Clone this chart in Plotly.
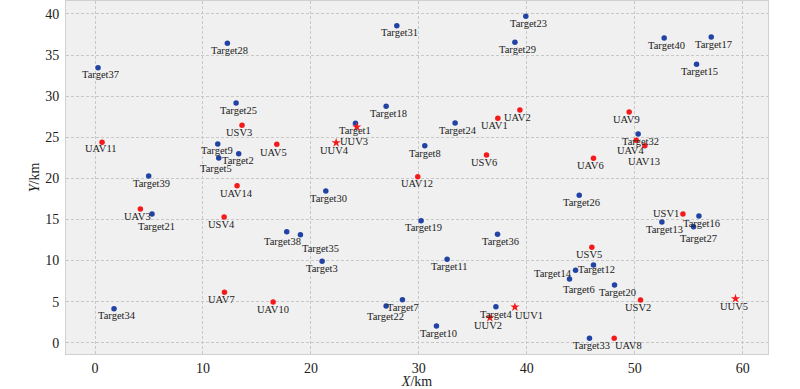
import plotly.graph_objects as go

# ---- data ----
target_names = [f"Target{i}" for i in range(1, 41)]
target_x = [24.13, 13.31, 21.04, 37.14, 11.46, 43.96, 28.48, 30.55, 11.37, 31.63,
            32.62, 46.18, 52.52, 44.52, 55.73, 55.95, 57.09, 26.97, 30.21, 48.13,
            5.28, 26.97, 39.91, 33.36, 13.07, 44.86, 55.45, 12.26, 38.90, 21.38,
            27.96, 50.32, 45.81, 1.76, 19.03, 37.29, 0.28, 17.76, 4.97, 52.73]
target_y = [26.70, 23.00, 9.90, 4.38, 22.48, 7.75, 5.23, 23.98, 24.18, 2.03,
            10.15, 9.46, 14.69, 8.81, 33.88, 15.42, 37.20, 28.77, 14.85, 7.02,
            15.66, 4.47, 39.72, 26.74, 29.17, 17.94, 14.12, 36.44, 36.56, 18.46,
            38.58, 25.40, 0.53, 4.14, 13.14, 13.19, 33.47, 13.51, 20.29, 37.08]

uav_names = [f"UAV{i}" for i in range(1, 15)]
uav_x = [37.32, 39.36, 4.20, 50.14, 16.84, 46.18, 11.99, 48.10, 49.49, 16.50,
         0.65, 29.90, 50.94, 13.16]
uav_y = [27.31, 28.32, 16.27, 24.63, 24.14, 22.44, 6.13, 0.53, 28.08, 4.95,
         24.39, 20.20, 23.98, 19.10]

usv_names = [f"USV{i}" for i in range(1, 7)]
usv_x = [54.47, 50.54, 13.62, 11.96, 46.03, 36.27]
usv_y = [15.66, 5.20, 26.46, 15.30, 11.61, 22.84]

uuv_names = [f"UUV{i}" for i in range(1, 6)]
uuv_x = [38.90, 36.58, 24.25, 22.34, 59.34]
uuv_y = [4.34, 3.04, 26.25, 24.34, 5.36]

# ---- label placement (pixel offsets: right, down) ----
default_off = {"Target": (2.5, 7.2), "UAV": (-2.5, 7.2), "USV": (-2.7, 7.2), "UUV": (-2.0, 7.4)}
label_off = {
    "Target5": (-2.7, 11), "Target21": (4.7, 12.7), "Target38": (-4, 9.7),
    "Target35": (19.7, 14), "Target22": (-0.7, 11), "Target27": (5, 12.3),
    "Target12": (3.3, 4.3), "Target14": (-23, 3), "Target6": (9, 10.3),
    "Target2": (-0.3, 7.3), "Target9": (-0.3, 6.7), "Target1": (-0.7, 7),
    "Target8": (0, 7.7), "Target3": (0, 7.3), "Target7": (0.7, 7.3), "Target4": (-0.3, 7.3),
    "UUV3": (-2.3, 15), "UUV1": (13.7, 8), "UAV4": (-6, 10.7), "UAV13": (-1, 16.3),
    "UAV8": (14, 7.3), "USV1": (-17, -0.3), "UAV10": (0, 7), "UAV11": (-0.7, 6.7),
    "UAV12": (-0.3, 7), "UAV14": (-0.3, 7.7), "UAV5": (-3, 7.7), "UAV1": (-3.3, 7.7),
}

BLUE = "#2143a3"
RED = "#f51a1a"
FONT = "Liberation Serif, Times New Roman, serif"

fig = go.Figure()
fig.add_trace(go.Scatter(x=target_x, y=target_y, mode="markers",
                         marker=dict(color=BLUE, size=5.5, symbol="circle"), hoverinfo="text",
                         text=target_names))
fig.add_trace(go.Scatter(x=uav_x + usv_x, y=uav_y + usv_y, mode="markers",
                         marker=dict(color=RED, size=5.5, symbol="circle"), hoverinfo="text",
                         text=uav_names + usv_names))
fig.add_trace(go.Scatter(x=uuv_x, y=uuv_y, mode="markers",
                         marker=dict(color=RED, size=7, symbol="star"), hoverinfo="text",
                         text=uuv_names))

annotations = []
for names, xs, ys in [(target_names, target_x, target_y), (uav_names, uav_x, uav_y),
                      (usv_names, usv_x, usv_y), (uuv_names, uuv_x, uuv_y)]:
    for n, x, y in zip(names, xs, ys):
        prefix = "Target" if n.startswith("Target") else n[:3]
        dx, dy = label_off.get(n, default_off[prefix])
        annotations.append(dict(x=x, y=y, text=n, showarrow=False, xshift=dx, yshift=-dy,
                                xanchor="center", yanchor="middle",
                                font=dict(family=FONT, size=10.5, color="#222222")))

grid = dict(showgrid=True, gridcolor="#c8c8c8", griddash="3px,2px", gridwidth=1,
            zeroline=False, showline=True, linecolor="#d0d0d0", linewidth=1, mirror=True,
            ticks="outside", tickcolor="rgba(0,0,0,0)",
            tickfont=dict(family=FONT, size=14, color="#222222"))

fig.update_layout(
    width=800, height=389,
    margin=dict(l=66, r=32, t=1, b=35),
    paper_bgcolor="white", plot_bgcolor="#f0f0f0",
    showlegend=False,
    annotations=annotations,
    font=dict(family=FONT),
    xaxis=dict(range=[-2.69, 62.35], tickvals=[0, 10, 20, 30, 40, 50, 60], ticklen=1,
               title=dict(text="<i>X</i>/km", font=dict(family=FONT, size=14, color="#222222"),
                          standoff=0), **grid),
    yaxis=dict(range=[-1.375, 41.58], tickvals=[0, 5, 10, 15, 20, 25, 30, 35, 40], ticklen=3,
               title=dict(text="<i>Y</i>/km", font=dict(family=FONT, size=14, color="#222222"),
                          standoff=2), **grid),
)

fig.write_html("out.html", config={"displayModeBar": False},
               post_script="document.body.style.margin='0';document.body.style.padding='0';"
                           "document.body.style.overflow='hidden';")
